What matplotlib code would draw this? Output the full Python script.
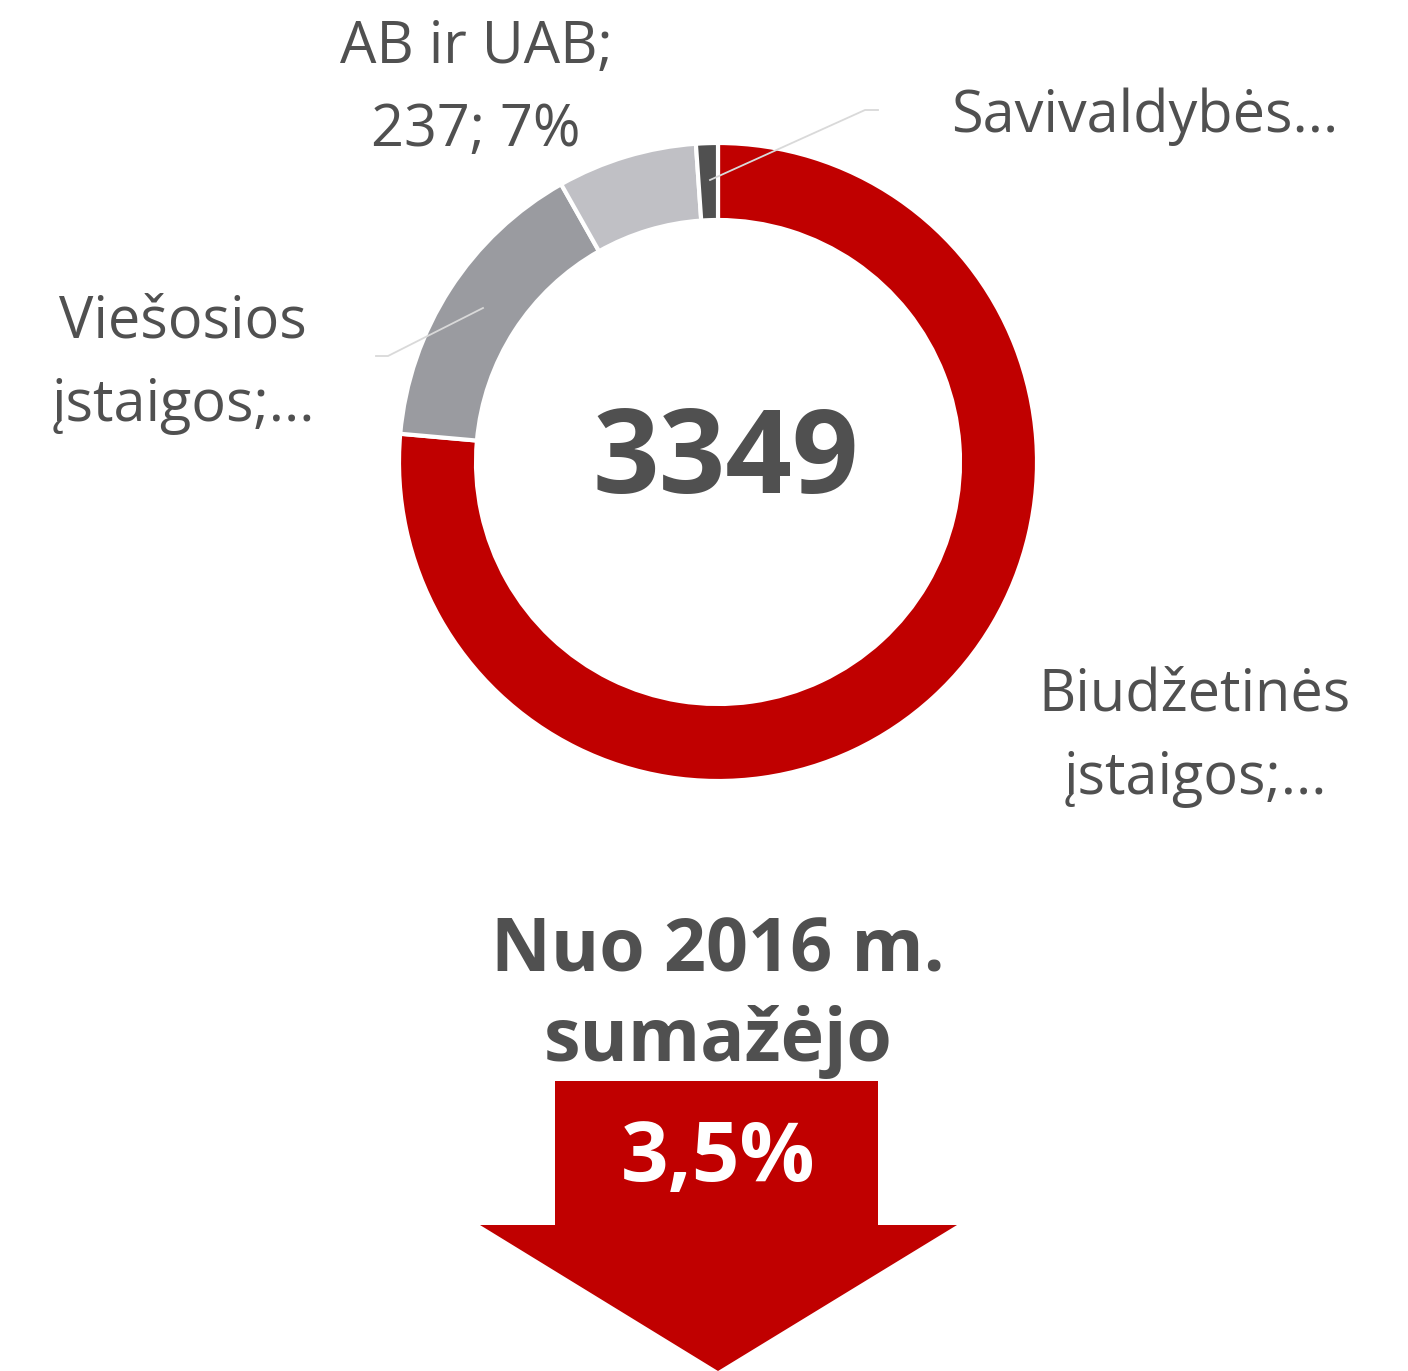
import matplotlib
matplotlib.use("Agg")
import matplotlib.pyplot as plt
from matplotlib.patches import Polygon

categories = ["Biudžetinės įstaigos", "Viešosios įstaigos", "AB ir UAB", "Savivaldybės įmonės"]
values = [2559, 516, 237, 37]
colors = ["#C00000", "#9A9BA0", "#C0C0C5", "#505050"]
label_texts = ["Biudžetinės\nįstaigos;...", "Viešosios\nįstaigos;...", "AB ir UAB;\n237; 7%", "Savivaldybės..."]
total_text = "3349"
headline = "Nuo 2016 m.\nsumažėjo"
change_text = "3,5%"

W, H = 1408, 1371
fig = plt.figure(figsize=(W / 100, H / 100), dpi=100)
ax = fig.add_axes([0, 0, 1, 1])
ax.set_xlim(0, W)
ax.set_ylim(0, H)
ax.set_aspect("equal")
ax.axis("off")

FONT = "Open Sans"
TXT = "#505050"

def Y(y):
    return H - y

cx, cy, R = 718, 462, 319
ax.pie(values, colors=colors, startangle=90, counterclock=False,
       center=(cx, Y(cy)), radius=R, frame=True,
       wedgeprops=dict(width=77, edgecolor="white", linewidth=3))
ax.set_xlim(0, W)
ax.set_ylim(0, H)
ax.axis("off")

# leader lines
ax.plot([710, 865, 878], [Y(180), Y(110), Y(110)], color="#D9D9D9", lw=1.3)
ax.plot([483, 388, 376], [Y(308), Y(356), Y(356)], color="#D9D9D9", lw=1.3)

fs = 41.5
ls = 1.56
ax.text(476, Y(89), label_texts[2], ha="center", va="center", fontsize=fs,
        color=TXT, family=FONT, linespacing=ls)
ax.text(1145, Y(117), label_texts[3], ha="center", va="center", fontsize=fs,
        color=TXT, family=FONT)
ax.text(183, Y(364), label_texts[1], ha="center", va="center", fontsize=fs,
        color=TXT, family=FONT, linespacing=ls)
ax.text(1195, Y(737), label_texts[0], ha="center", va="center", fontsize=fs,
        color=TXT, family=FONT, linespacing=ls)

ax.text(726, Y(462), total_text, ha="center", va="center", fontsize=84,
        fontweight="bold", color=TXT, family=FONT)

ax.text(718, Y(997), headline, ha="center", va="center", fontsize=53,
        fontweight="bold", color=TXT, family=FONT, linespacing=1.28)

# arrow
arrow = Polygon([(555, Y(1081)), (878, Y(1081)), (878, Y(1225)), (957, Y(1225)),
                 (718, Y(1371)), (480, Y(1225)), (555, Y(1225))],
                closed=True, facecolor="#C00000", edgecolor="none")
ax.add_patch(arrow)
ax.text(718, Y(1160), change_text, ha="center", va="center", fontsize=60,
        fontweight="bold", color="white", family=FONT)

fig.savefig("out.png", dpi=100)
